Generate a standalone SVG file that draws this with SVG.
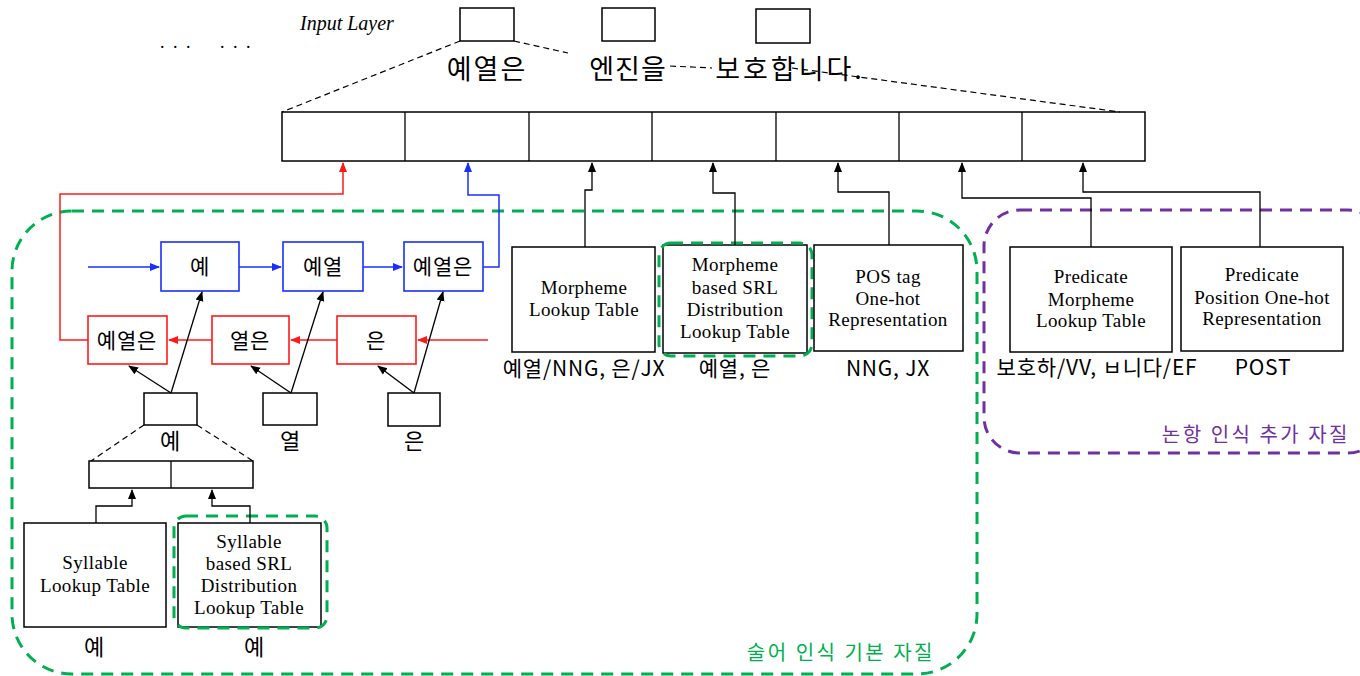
<svg xmlns="http://www.w3.org/2000/svg" width="1360" height="676" viewBox="0 0 1360 676">
<defs>
<style>
.box{fill:#fff;stroke:#000;stroke-width:1.5}
.bbox{fill:#fff;stroke:#1a2fff;stroke-width:1.6}
.rbox{fill:#fff;stroke:#ff1a1a;stroke-width:1.6}
.ser{font-family:"Liberation Serif",serif;font-size:19px;letter-spacing:0.4px;fill:#000;text-anchor:middle}
.kr{font-family:"Noto Sans CJK KR","Noto Sans",sans-serif;fill:#000;text-anchor:middle}
.lbl{font-size:21px;letter-spacing:0.8px}
.ln{fill:none;stroke:#000;stroke-width:1.3}
.dash{fill:none;stroke:#000;stroke-width:1.2;stroke-dasharray:6 4}
.gd{fill:none;stroke:#00b050;stroke-width:3;stroke-dasharray:12 8}
.pd{fill:none;stroke:#7030a0;stroke-width:3;stroke-dasharray:12 8}
.red{fill:none;stroke:#ff1a1a;stroke-width:1.5}
.blue{fill:none;stroke:#1a2fff;stroke-width:1.5}
</style>
<marker id="ak" markerWidth="10" markerHeight="10" refX="9" refY="5" orient="auto" markerUnits="userSpaceOnUse"><path d="M0,1 L10,5 L0,9 z" fill="#000"/></marker>
<marker id="ar" markerWidth="10" markerHeight="10" refX="9" refY="5" orient="auto" markerUnits="userSpaceOnUse"><path d="M0,1 L10,5 L0,9 z" fill="#ff1a1a"/></marker>
<marker id="ab" markerWidth="10" markerHeight="10" refX="9" refY="5" orient="auto" markerUnits="userSpaceOnUse"><path d="M0,1 L10,5 L0,9 z" fill="#1a2fff"/></marker>
</defs>
<rect width="1360" height="676" fill="#fff"/>

<g id="input-layer">
<text x="300" y="30" font-family="Liberation Serif,serif" font-style="italic" font-size="20">Input Layer</text>
<text x="160" y="48" font-family="Liberation Serif,serif" font-size="18" letter-spacing="2">. . .</text>
<text x="220" y="48" font-family="Liberation Serif,serif" font-size="18" letter-spacing="2">. . .</text>
<rect class="box" x="460" y="8" width="54" height="33"/>
<rect class="box" x="602" y="8" width="53" height="33"/>
<rect class="box" x="756" y="9" width="54" height="34"/>
<text class="kr" x="487" y="79" font-size="27" letter-spacing="2">예열은</text>
<text class="kr" x="628" y="79" font-size="27" letter-spacing="1">엔진을</text>
<text class="kr" x="790" y="79" font-size="27" letter-spacing="3">보호합니다.</text>
</g>

<g id="embedding-layer">
<rect class="box" x="282" y="112" width="863" height="49"/>
<path class="ln" d="M405,112V161M529,112V161M652,112V161M776,112V161M899,112V161M1022,112V161"/>
</g>

<g id="group-basic">
<rect class="gd" x="12" y="211" width="965" height="463" rx="60"/>
<text x="935" y="660" font-family="Noto Sans CJK KR,sans-serif" font-size="20" letter-spacing="2.5" fill="#00b050" text-anchor="end">술어 인식 기본 자질</text>
</g>
<g id="group-extra">
<rect class="pd" x="984" y="210" width="400" height="243" rx="36"/>
<text x="1350" y="442" font-family="Noto Sans CJK KR,sans-serif" font-size="20" letter-spacing="2.5" fill="#7030a0" text-anchor="end">논항 인식 추가 자질</text>
</g>

<g id="morpheme-lookup">
<rect class="box" x="512" y="247" width="143" height="105"/>
<text class="ser" x="584" y="294">Morpheme</text>
<text class="ser" x="584" y="316">Lookup Table</text>
<text class="kr lbl" x="584" y="376">예열/NNG, 은/JX</text>
</g>
<g id="morpheme-srl">
<rect class="box" x="663" y="245" width="144" height="108"/>
<rect class="gd" x="659" y="243" width="153" height="113" rx="12"/>
<text class="ser" x="735" y="271">Morpheme</text>
<text class="ser" x="735" y="294">based SRL</text>
<text class="ser" x="735" y="316">Distribution</text>
<text class="ser" x="735" y="338">Lookup Table</text>
<text class="kr lbl" x="735" y="376">예열, 은</text>
</g>
<g id="pos-onehot">
<rect class="box" x="814" y="245" width="149" height="106"/>
<text class="ser" x="888" y="283">POS tag</text>
<text class="ser" x="888" y="305">One-hot</text>
<text class="ser" x="888" y="326">Representation</text>
<text class="kr lbl" x="888" y="376">NNG, JX</text>
</g>
<g id="pred-morpheme">
<rect class="box" x="1010" y="247" width="162" height="105"/>
<text class="ser" x="1091" y="283">Predicate</text>
<text class="ser" x="1091" y="306">Morpheme</text>
<text class="ser" x="1091" y="327">Lookup Table</text>
<text class="kr lbl" x="1097" y="375">보호하/VV, ㅂ니다/EF</text>
</g>
<g id="pred-position">
<rect class="box" x="1181" y="247" width="162" height="104"/>
<text class="ser" x="1262" y="281">Predicate</text>
<text class="ser" x="1262" y="304">Position One-hot</text>
<text class="ser" x="1262" y="325">Representation</text>
<text class="kr lbl" x="1263" y="375">POST</text>
</g>

<g id="fw-1"><rect class="bbox" x="161" y="242" width="78" height="49"/><text class="kr lbl" x="200" y="274">예</text></g>
<g id="fw-2"><rect class="bbox" x="283" y="242" width="80" height="49"/><text class="kr lbl" x="323" y="274">예열</text></g>
<g id="fw-3"><rect class="bbox" x="404" y="242" width="79" height="49"/><text class="kr lbl" x="443" y="274">예열은</text></g>
<g id="bw-1"><rect class="rbox" x="88" y="316" width="79" height="48"/><text class="kr lbl" x="127" y="348">예열은</text></g>
<g id="bw-2"><rect class="rbox" x="212" y="316" width="77" height="48"/><text class="kr lbl" x="250" y="348">열은</text></g>
<g id="bw-3"><rect class="rbox" x="337" y="316" width="79" height="48"/><text class="kr lbl" x="376" y="348">은</text></g>

<g id="syl-1"><rect class="box" x="144" y="393" width="53" height="32"/><text class="kr" x="170" y="449" font-size="22">예</text></g>
<g id="syl-2"><rect class="box" x="263" y="393" width="54" height="32"/><text class="kr" x="290" y="449" font-size="22">열</text></g>
<g id="syl-3"><rect class="box" x="388" y="393" width="52" height="33"/><text class="kr" x="414" y="449" font-size="22">은</text></g>

<g id="syl-concat">
<rect class="box" x="89" y="461" width="164" height="27"/>
<path class="ln" d="M171,461V488"/>
</g>
<g id="syllable-lookup">
<rect class="box" x="24" y="523" width="142" height="104"/>
<text class="ser" x="95" y="569">Syllable</text>
<text class="ser" x="95" y="592">Lookup Table</text>
<text class="kr" x="94" y="655" font-size="22">예</text>
</g>
<g id="syllable-srl">
<rect class="box" x="178" y="523" width="143" height="104"/>
<rect class="gd" x="174" y="516" width="153" height="112" rx="12"/>
<text class="ser" x="249" y="548">Syllable</text>
<text class="ser" x="249" y="570">based SRL</text>
<text class="ser" x="249" y="592">Distribution</text>
<text class="ser" x="249" y="614">Lookup Table</text>
<text class="kr" x="254" y="655" font-size="22">예</text>
</g>

<g id="connectors">
<path class="dash" d="M460,41L282,112M514,41L568,53M670,66L712,68M792,68L1120,112"/>
<path class="dash" d="M144,425L91,461M197,425L253,461"/>
<path class="red" d="M88,340H60V194H343V163" marker-end="url(#ar)"/>
<path class="blue" d="M483,267H499V195H468V163" marker-end="url(#ab)"/>
<path class="ln" d="M585,247V190H592V163" marker-end="url(#ak)"/>
<path class="ln" d="M735,245V193H713V163" marker-end="url(#ak)"/>
<path class="ln" d="M889,245V192H838V163" marker-end="url(#ak)"/>
<path class="ln" d="M1091,247V198H962V163" marker-end="url(#ak)"/>
<path class="ln" d="M1260,247V192H1083V163" marker-end="url(#ak)"/>
<path class="blue" d="M88,267H159" marker-end="url(#ab)"/>
<path class="blue" d="M239,267H281" marker-end="url(#ab)"/>
<path class="blue" d="M363,267H402" marker-end="url(#ab)"/>
<path class="red" d="M488,340H418" marker-end="url(#ar)"/>
<path class="red" d="M337,340H291" marker-end="url(#ar)"/>
<path class="red" d="M212,340H169" marker-end="url(#ar)"/>
<path class="ln" d="M171,393L129,366" marker-end="url(#ak)"/>
<path class="ln" d="M171,393L202,292" marker-end="url(#ak)"/>
<path class="ln" d="M291,393L251,366" marker-end="url(#ak)"/>
<path class="ln" d="M291,393L323,292" marker-end="url(#ak)"/>
<path class="ln" d="M414,393L378,366" marker-end="url(#ak)"/>
<path class="ln" d="M414,393L443,292" marker-end="url(#ak)"/>
<path class="ln" d="M96,523V506H132V490" marker-end="url(#ak)"/>
<path class="ln" d="M250,523V506H212V490" marker-end="url(#ak)"/>
</g>
</svg>
